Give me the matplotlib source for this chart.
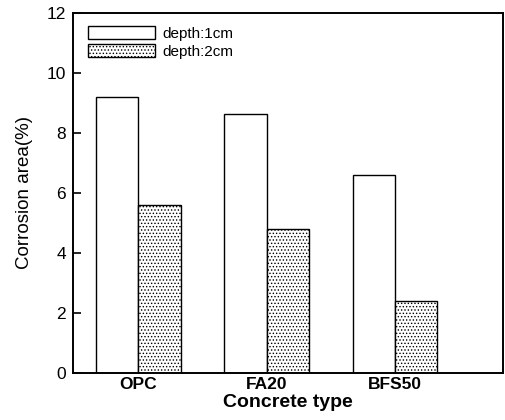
import matplotlib.pyplot as plt
import numpy as np

plt.rcParams['font.family'] = ['Liberation Sans', 'DejaVu Sans']
plt.rcParams['hatch.linewidth'] = 0.6

categories = ['OPC', 'FA20', 'BFS50']
depth_1cm = [9.2, 8.65, 6.6]
depth_2cm = [5.6, 4.8, 2.4]

x = np.arange(1, len(categories) + 1)
w = 0.33

fig = plt.figure(figsize=(5.06, 4.2), dpi=100)
ax = fig.add_axes([0.144, 0.112, 0.85, 0.857])

ax.bar(x - w / 2, depth_1cm, w, color='white', edgecolor='black', linewidth=1.0, label='depth:1cm')
ax.bar(x + w / 2, depth_2cm, w, color='white', edgecolor='black', linewidth=1.0, hatch='.....', label='depth:2cm')

ax.set_xlim(0.49, 3.84)
ax.set_ylim(0, 12)
ax.set_yticks([0, 2, 4, 6, 8, 10, 12])
ax.set_xticks(x)
ax.set_xticklabels(categories, fontsize=12.5, fontweight='bold')
ax.tick_params(axis='y', direction='in', length=6, labelsize=12.5, width=1.2, pad=5)
ax.tick_params(axis='x', length=0, pad=3)
for s in ax.spines.values():
    s.set_linewidth(1.4)

ax.set_xlabel('Concrete type', fontsize=14, fontweight='bold', labelpad=1)
ax.set_ylabel('Corrosion area(%)', fontsize=13.5, labelpad=10)

ax.legend(loc='upper left', frameon=False, fontsize=11, handlelength=4.4, handleheight=1.0,
          bbox_to_anchor=(0.01, 0.995), labelspacing=0.2, handletextpad=0.45, borderaxespad=0.3)

fig.savefig('out.png', dpi=100)
